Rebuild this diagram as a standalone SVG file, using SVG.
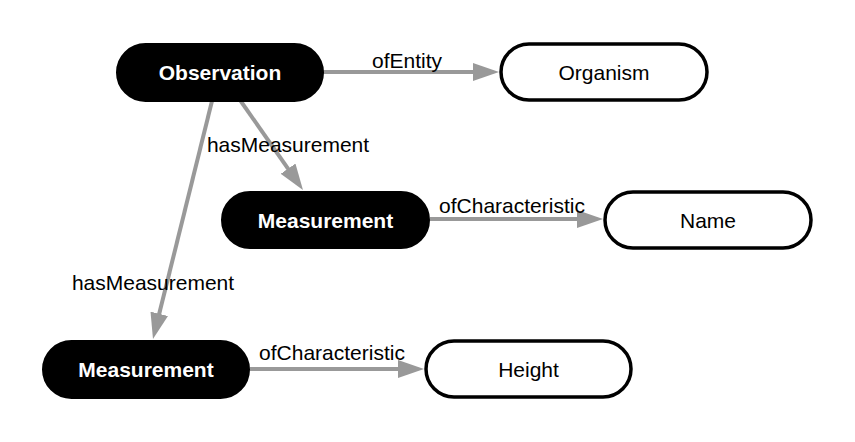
<svg xmlns="http://www.w3.org/2000/svg" width="855" height="442" viewBox="0 0 855 442">
<style>
.dark rect{fill:#000;stroke:#000;stroke-width:2}
.light rect{fill:#fff;stroke:#000;stroke-width:3.5}
.dark text{fill:#fff;font-family:"Liberation Sans",Arial,sans-serif;font-weight:bold;font-size:21px;text-anchor:middle}
.light text{fill:#000;font-family:"Liberation Sans",Arial,sans-serif;font-size:21px;text-anchor:middle}
.edge line{stroke:#999;stroke-width:4;fill:none;marker-end:url(#arr)}
.edge text{fill:#000;font-family:"Liberation Sans",Arial,sans-serif;font-size:21px;text-anchor:middle}
</style>
<defs>
<marker id="arr" markerUnits="userSpaceOnUse" markerWidth="26" markerHeight="18" refX="6" refY="9" orient="auto" viewBox="0 0 26 18">
<path d="M0,0 L26,9 L0,18 z" fill="#999"/>
</marker>
</defs>
<rect width="855" height="442" fill="#fff"/>
<g id="connectors" class="edge">
<line x1="323" y1="72" x2="479" y2="72"/>
<text x="407" y="68">ofEntity</text>
<line x1="240" y1="100" x2="291.5" y2="173.6"/>
<text x="288" y="152">hasMeasurement</text>
<line x1="212" y1="101" x2="157.8" y2="319.6"/>
<text x="153" y="290">hasMeasurement</text>
<line x1="430" y1="219" x2="583" y2="219"/>
<text x="512" y="213">ofCharacteristic</text>
<line x1="250" y1="369" x2="404" y2="369"/>
<text x="332" y="360">ofCharacteristic</text>
</g>
<g id="observation" class="dark">
<rect x="117" y="44" width="206" height="57" rx="28.5"/>
<text x="220" y="80">Observation</text>
</g>
<g id="organism" class="light">
<rect x="501" y="44" width="206" height="56" rx="28"/>
<text x="604" y="80">Organism</text>
</g>
<g id="measurement1" class="dark">
<rect x="222" y="192" width="207" height="56" rx="28"/>
<text x="325.5" y="228">Measurement</text>
</g>
<g id="name" class="light">
<rect x="605" y="192" width="206" height="56" rx="28"/>
<text x="708" y="228">Name</text>
</g>
<g id="measurement2" class="dark">
<rect x="43" y="341" width="206" height="57" rx="28.5"/>
<text x="146" y="377">Measurement</text>
</g>
<g id="height" class="light">
<rect x="426" y="341" width="205" height="56" rx="28"/>
<text x="528.5" y="377">Height</text>
</g>
</svg>
